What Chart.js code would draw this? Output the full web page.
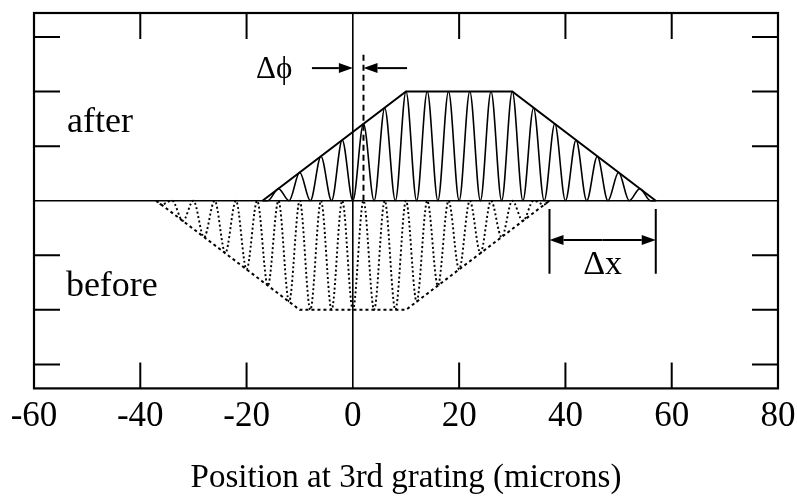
<!DOCTYPE html>
<html lang="en">
<head>
    <meta charset="UTF-8">
    <title>Fringes before / after</title>
    <script src="https://cdn.jsdelivr.net/npm/chart.js"></script>
    <style>
        html, body { margin: 0; padding: 0; background: #fff; }
        .chart-box { width: 797px; height: 498px; }
    </style>
</head>
<body>
<div class="chart-box"><canvas id="grafico"></canvas></div>

<script>
    // axis ticks
    const xTicks = [-60, -40, -20, 0, 20, 40, 60, 80];
    const yTicks = [-3, -2, -1, 0, 1, 2, 3];

    // "after" fringes (solid) - peaks on the envelope, troughs on zero
    const afterX = [-17, -16, -14, -12, -10, -8, -6, -4, -2, 0, 2, 4, 6, 8, 10, 12, 14, 16, 18, 20,
        22, 24, 26, 28, 30, 32, 34, 36, 38, 40, 42, 44, 46, 48, 50, 52, 54, 56, 57];
    const afterY = [0, 0, 0.22, 0, 0.52, 0, 0.81, 0, 1.11, 0, 1.41, 0, 1.70, 0, 2, 0, 2, 0, 2, 0,
        2, 0, 2, 0, 2, 0, 1.70, 0, 1.41, 0, 1.11, 0, 0.81, 0, 0.52, 0, 0.22, 0, 0];
    const afterEnvX = [-17, 10, 30, 57];
    const afterEnvY = [0, 2, 2, 0];

    // "before" fringes (dotted) - hanging below zero
    const beforeX = [-37, -36, -34, -32, -30, -28, -26, -24, -22, -20, -18, -16, -14, -12, -10, -8, -6, -4, -2, 0,
        2, 4, 6, 8, 10, 12, 14, 16, 18, 20, 22, 24, 26, 28, 30, 32, 34, 36, 37];
    const beforeY = [0, -0.07, 0, -0.37, 0, -0.67, 0, -0.96, 0, -1.26, 0, -1.56, 0, -1.85, 0, -2, 0, -2, 0, -2,
        0, -2, 0, -2, 0, -1.85, 0, -1.56, 0, -1.26, 0, -0.96, 0, -0.67, 0, -0.37, 0, -0.07, 0];
    const beforeEnvX = [-37, -10, 10, 37];
    const beforeEnvY = [0, -2, -2, 0];

    // phase shift marker (dashed)
    const phaseX = [2, 2];
    const phaseY = [0, 2.72];

    const serif = "'Liberation Serif', 'Times New Roman', serif";

    function pares(xs, ys) {
        return xs.map((x, i) => ({ x: x, y: ys[i] }));
    }

    function seta(ctx, x1, y1, x2, y2) {
        // line with filled head at (x2, y2)
        const ang = Math.atan2(y2 - y1, x2 - x1);
        const len = 14, half = 5;
        ctx.beginPath();
        ctx.moveTo(x1, y1);
        ctx.lineTo(x2 - Math.cos(ang) * len, y2 - Math.sin(ang) * len);
        ctx.stroke();
        ctx.beginPath();
        ctx.moveTo(x2, y2);
        ctx.lineTo(x2 - Math.cos(ang) * len - Math.sin(ang) * half, y2 - Math.sin(ang) * len + Math.cos(ang) * half);
        ctx.lineTo(x2 - Math.cos(ang) * len + Math.sin(ang) * half, y2 - Math.sin(ang) * len - Math.cos(ang) * half);
        ctx.closePath();
        ctx.fill();
    }

    // frame with inward ticks + the annotations
    const moldura = {
        id: 'moldura',
        afterDatasetsDraw(chart) {
            const ctx = chart.ctx;
            const a = chart.chartArea;
            const sx = chart.scales.x, sy = chart.scales.y;
            const tl = 26;
            ctx.save();
            ctx.strokeStyle = '#000';
            ctx.fillStyle = '#000';
            ctx.lineWidth = 2.2;
            ctx.strokeRect(a.left, a.top, a.right - a.left, a.bottom - a.top);

            ctx.lineWidth = 2;
            ctx.beginPath();
            xTicks.forEach(v => {
                if (v === 0 || v === xTicks[0] || v === xTicks[xTicks.length - 1]) return;
                const px = sx.getPixelForValue(v);
                ctx.moveTo(px, a.bottom); ctx.lineTo(px, a.bottom - tl);
                ctx.moveTo(px, a.top); ctx.lineTo(px, a.top + tl);
            });
            yTicks.forEach(v => {
                if (v === 0) return;
                const py = sy.getPixelForValue(v);
                ctx.moveTo(a.left, py); ctx.lineTo(a.left + tl, py);
                ctx.moveTo(a.right, py); ctx.lineTo(a.right - tl, py);
            });
            ctx.stroke();

            // delta phi
            const yPhi = sy.getPixelForValue(2.43);
            seta(ctx, sx.getPixelForValue(-7.7), yPhi, sx.getPixelForValue(0), yPhi);
            seta(ctx, sx.getPixelForValue(10.2), yPhi, sx.getPixelForValue(2), yPhi);
            ctx.font = '31px ' + serif;
            ctx.textAlign = 'right';
            ctx.textBaseline = 'alphabetic';
            ctx.fillText('\u0394\u03d5', sx.getPixelForValue(-11.4), sy.getPixelForValue(2.24));

            // delta x
            const xa = sx.getPixelForValue(37), xb = sx.getPixelForValue(57);
            ctx.beginPath();
            [xa, xb].forEach(px => {
                ctx.moveTo(px, sy.getPixelForValue(-0.15));
                ctx.lineTo(px, sy.getPixelForValue(-1.34));
            });
            ctx.stroke();
            const yDx = sy.getPixelForValue(-0.72);
            const meio = (xa + xb) / 2;
            seta(ctx, meio, yDx, xa, yDx);
            seta(ctx, meio, yDx, xb, yDx);
            ctx.font = '34px ' + serif;
            ctx.textAlign = 'center';
            ctx.fillText('\u0394x', sx.getPixelForValue(47), sy.getPixelForValue(-1.34));

            // labels
            ctx.font = '36px ' + serif;
            ctx.textAlign = 'left';
            ctx.fillText('after', sx.getPixelForValue(-53.8), sy.getPixelForValue(1.25));
            ctx.fillText('before', sx.getPixelForValue(-54), sy.getPixelForValue(-1.75));
            ctx.restore();
        }
    };

    const zeroOnly = (ctx) => ctx.tick && ctx.tick.value === 0 ? '#000' : 'rgba(0,0,0,0)';

    new Chart(document.getElementById('grafico'), {
        type: 'line',
        data: {
            datasets: [
                {
                    label: 'after',
                    data: pares(afterX, afterY),
                    borderColor: '#000',
                    borderWidth: 1.6,
                    cubicInterpolationMode: 'monotone',
                    pointRadius: 0
                },
                {
                    label: 'after envelope',
                    data: pares(afterEnvX, afterEnvY),
                    borderColor: '#000',
                    borderWidth: 2,
                    pointRadius: 0
                },
                {
                    label: 'before',
                    data: pares(beforeX, beforeY),
                    borderColor: '#000',
                    borderWidth: 1.9,
                    borderDash: [2, 2.5],
                    cubicInterpolationMode: 'monotone',
                    pointRadius: 0
                },
                {
                    label: 'before envelope',
                    data: pares(beforeEnvX, beforeEnvY),
                    borderColor: '#000',
                    borderWidth: 2,
                    borderDash: [3, 3],
                    pointRadius: 0
                },
                {
                    label: 'phase',
                    data: pares(phaseX, phaseY),
                    borderColor: '#000',
                    borderWidth: 2,
                    borderDash: [6, 4],
                    pointRadius: 0
                }
            ]
        },
        options: {
            responsive: true,
            maintainAspectRatio: false,
            animation: false,
            layout: { padding: { top: 13, left: 34, right: 19, bottom: 0 } },
            plugins: {
                legend: { display: false },
                tooltip: { enabled: false }
            },
            scales: {
                x: {
                    type: 'linear',
                    min: -60,
                    max: 80,
                    afterBuildTicks: (s) => { s.ticks = xTicks.map(v => ({ value: v })); },
                    // let the layout padding alone decide the plot edges
                    afterFit: (s) => { s.paddingLeft = 0; s.paddingRight = 0; },
                    ticks: {
                        color: '#000',
                        font: { family: serif, size: 35 },
                        padding: 7,
                        maxRotation: 0
                    },
                    grid: { color: zeroOnly, lineWidth: 1.6, drawTicks: false },
                    border: { display: false },
                    title: {
                        display: true,
                        text: 'Position at 3rd grating (microns)',
                        color: '#000',
                        font: { family: serif, size: 33 },
                        padding: { top: 14, bottom: 0 }
                    }
                },
                y: {
                    min: -3.44,
                    max: 3.44,
                    afterBuildTicks: (s) => { s.ticks = yTicks.map(v => ({ value: v })); },
                    ticks: { display: false },
                    grid: { color: zeroOnly, lineWidth: 1.6, drawTicks: false },
                    border: { display: false }
                }
            }
        },
        plugins: [moldura]
    });
</script>
</body>
</html>
